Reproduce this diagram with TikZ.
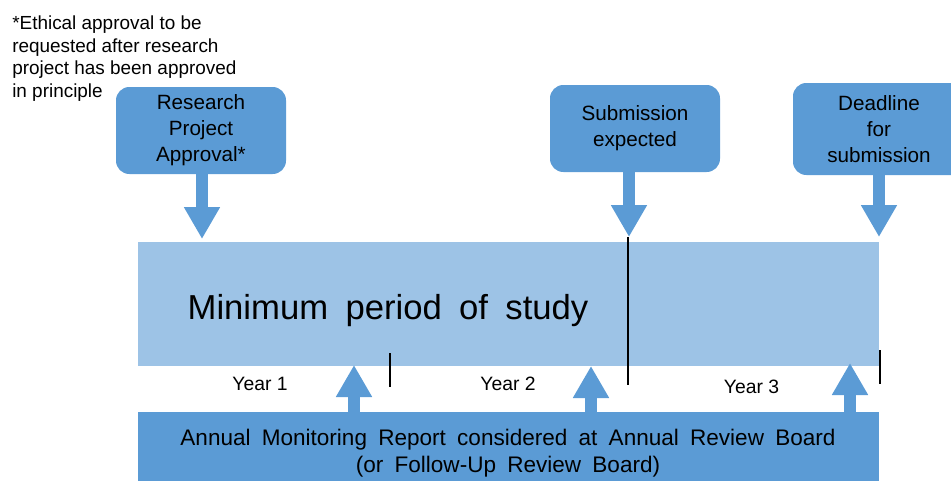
\documentclass[tikz,border=0pt]{standalone}
\usepackage{fontspec}
\setmainfont{Liberation Sans}
\newfontfamily\widefont[WordSpace=1.8]{Liberation Sans}
\usetikzlibrary{arrows.meta}
\definecolor{barlight}{HTML}{9DC3E6}
\definecolor{barblue}{HTML}{5B9BD5}
\begin{document}
\begin{tikzpicture}[x=0.75pt,y=-0.75pt,
  callout/.style={fill=barblue, rounded corners=10pt, minimum width=127.5pt,
    minimum height=65.25pt, align=center, inner sep=0pt,
    font=\fontsize{15.5}{19.5}\selectfont},
  band/.style={minimum width=555.75pt, inner sep=0pt, outer sep=0pt},
  bigarrow/.style={draw=barblue, line width=9pt,
    -{Triangle[width=25.5pt,length=24pt]}},
  tickline/.style={draw=black, line width=0.9pt},
  yearlbl/.style={anchor=base, inner sep=0pt, font=\fontsize{14.5}{17}\selectfont}]
\useasboundingbox (0,0) rectangle (951,480);
\clip (0,0) rectangle (951,480);

% study period band and review board band
\node[band, fill=barlight, minimum height=93pt] (bar) at (508.5,304) {};
\node[band, fill=barblue, minimum height=66pt] (board) at (508.5,456) {};

% milestone callouts
\node[callout] (rpa) at (201,130.5) {Research\\Project\\Approval*};
\node[callout] (sub) at (635,128.5) {Submission\\expected};
\node[callout, minimum width=129pt, minimum height=69pt] (ddl) at (879,129)
  {Deadline\\for\\submission};

% arrow tips on the band
\coordinate (rpatip) at (202,239);
\coordinate (subtip) at (629,237);
\coordinate (ddltip) at (879,237);
\draw[bigarrow] (rpa.south -| rpatip) -- (rpatip);
\draw[bigarrow] (sub.south -| subtip) -- (subtip);
\draw[bigarrow] (ddl.south -| ddltip) -- (ddltip);

% annual review arrows
\coordinate (rev1) at (354,365);
\coordinate (rev2) at (591,366);
\coordinate (rev3) at (850,363);
\draw[bigarrow] (board.north -| rev1) -- (rev1);
\draw[bigarrow] (board.north -| rev2) -- (rev2);
\draw[bigarrow] (board.north -| rev3) -- (rev3);

% year boundaries
\coordinate (y1a) at (390,353); \coordinate (y1b) at (390,387);
\coordinate (y2a) at (628,237); \coordinate (y2b) at (628,385);
\coordinate (y3a) at (880,350); \coordinate (y3b) at (880,384);
\draw[tickline] (y1a) -- (y1b);
\draw[tickline] (y2a) -- (y2b);
\draw[tickline] (y3a) -- (y3b);

% labels (multi-line nodes are anchored on their last baseline)
\node[anchor=base, inner sep=0pt, font=\widefont\fontsize{26}{30}\selectfont]
  (study) at (388,319) {Minimum period of study};
\node[yearlbl] (yr1) at (260,390) {Year 1};
\node[yearlbl] (yr2) at (508,390) {Year 2};
\node[yearlbl] (yr3) at (751.5,393) {Year 3};
\node[anchor=base, inner sep=0pt, align=center,
  font=\widefont\fontsize{16.9}{20.25}\selectfont] (boardtxt) at (508,472)
  {Annual Monitoring Report considered at Annual Review Board\\(or Follow-Up Review Board)};
\node[anchor=base west, inner sep=0pt, align=left,
  font=\fontsize{14.2}{16.9}\selectfont] (note) at (12,97.5)
  {*Ethical approval to be\\requested after research\\project has been approved\\in principle};
\end{tikzpicture}
\end{document}
